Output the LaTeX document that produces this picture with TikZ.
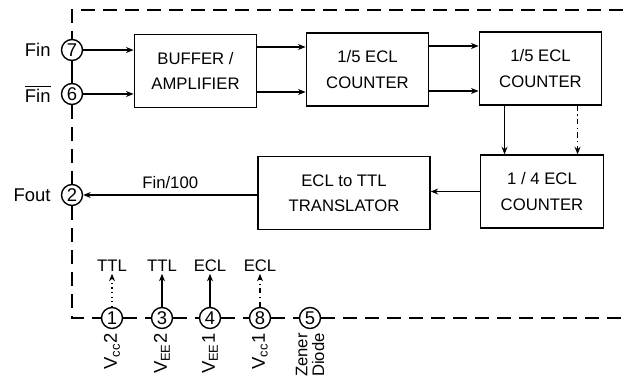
\documentclass[tikz,border=0pt]{standalone}
\usepackage{fontspec}
\setmainfont{Liberation Sans}
\usetikzlibrary{arrows.meta,positioning,calc}

\begin{document}
\begin{tikzpicture}[font=\fontsize{9.5}{14.5}\selectfont,
  blk/.style={draw, thick, minimum width=2.45cm, minimum height=1.46cm, align=center},
  pin/.style={draw, circle, thick, minimum size=0.42cm, inner sep=0pt, font=\fontsize{10.5}{11}\selectfont},
  sig/.style={-{Stealth[length=1.5mm,width=1.2mm]}, semithick},
  border/.style={thick, dash pattern=on 0.28cm off 0.16cm},
  supply/.style={rotate=90, anchor=east, inner sep=1pt, font=\fontsize{10.5}{11}\selectfont}]
  \useasboundingbox (0,0) rectangle (12.46,7.68);
  % function blocks
  \node[blk] (buf) at (3.91,6.26) {BUFFER /\\AMPLIFIER};
  \node[blk] (cnta) at (7.35,6.29) {1/5 ECL\\COUNTER};
  \node[blk] (cntb) at (10.81,6.31) {1/5 ECL\\COUNTER};
  \node[blk] (cntc) at (10.84,3.85) {1 / 4 ECL\\COUNTER};
  \node[blk, minimum width=3.44cm] (trans) at (6.88,3.82) {ECL to TTL\\TRANSLATOR};
  % pins on the left side
  \node[pin] (p7) at (1.44,6.68) {7};
  \node[pin] (p6) at (1.44,5.80) {6};
  \node[pin] (p2) at (1.44,3.78) {2};
  \node[left=0.08cm of p7, font=\fontsize{10.5}{11}\selectfont] (fin) {Fin};
  \node[left=0.08cm of p6, font=\fontsize{10.5}{11}\selectfont] (finb) {$\overline{\mbox{Fin}}$};
  \node[left=0.08cm of p2, font=\fontsize{10.5}{11}\selectfont] (fout) {Fout};
  % pins along the bottom
  \node[pin] (p1) at (2.24,1.32) {1};
  \node[pin] (p3) at (3.24,1.32) {3};
  \node[pin] (p4) at (4.20,1.32) {4};
  \node[pin] (p8) at (5.20,1.32) {8};
  \node[pin] (p5) at (6.20,1.32) {5};
  \node[supply] (v1) at ([yshift=-0.04cm]p1.south) {V\textsubscript{cc}2};
  \node[supply] (v3) at ([yshift=-0.04cm]p3.south) {V\textsubscript{EE}2};
  \node[supply] (v4) at ([yshift=-0.04cm]p4.south) {V\textsubscript{EE}1};
  \node[supply] (v8) at ([yshift=-0.04cm]p8.south) {V\textsubscript{cc}1};
  \node[supply, align=right, font=\fontsize{9.5}{9.5}\selectfont] (v5) at ([yshift=-0.04cm]p5.south) {Zener\\Diode};
  \node[above=0.66cm of p1, inner sep=1pt] (l1) {TTL};
  \node[above=0.66cm of p3, inner sep=1pt] (l3) {TTL};
  \node[above=0.66cm of p4, inner sep=1pt] (l4) {ECL};
  \node[above=0.66cm of p8, inner sep=1pt] (l8) {ECL};
  % package outline
  \coordinate (tl) at (1.44,7.48);
  \coordinate (tr) at (12.46,7.48);
  \coordinate (bl) at (1.44,1.32);
  \coordinate (br) at (12.46,1.32);
  \draw[border] (tr) -- (tl) -- (p7);
  \draw[thick] (p7) -- (p6);
  \draw[border] (p6) -- (p2);
  \draw[border] (p2) -- (bl) -- (p1);
  \draw[border] (p1) -- (p3);
  \draw[border] (p3) -- (p4);
  \draw[border] (p4) -- (p8);
  \draw[border] (p8) -- (p5);
  \draw[border] (p5) -- (br);
  % signal path
  \draw[sig] (p7) -- (p7 -| buf.west);
  \draw[sig] (p6) -- (p6 -| buf.west);
  \draw[sig] ([yshift=0.48cm]buf.east) -- ([yshift=0.48cm]buf.east -| cnta.west);
  \draw[sig] ([yshift=-0.42cm]buf.east) -- ([yshift=-0.42cm]buf.east -| cnta.west);
  \draw[sig] ([yshift=0.47cm]cnta.east) -- ([yshift=0.47cm]cnta.east -| cntb.west);
  \draw[sig] ([yshift=-0.43cm]cnta.east) -- ([yshift=-0.43cm]cnta.east -| cntb.west);
  \draw[sig] ([xshift=0.52cm]cntb.south west) -- ([xshift=0.52cm]cntb.south west |- cntc.north);
  \draw[sig, dash dot] ([xshift=1.98cm]cntb.south west) -- ([xshift=1.98cm]cntb.south west |- cntc.north);
  \draw[sig] (cntc.west) -- (cntc.west -| trans.east);
  \draw[sig] (trans.west |- p2) -- (p2) node[midway, above] {Fin/100};
  % supply levels
  \draw[sig, dotted] (p1) -- (l1);
  \draw[sig] (p3) -- (l3);
  \draw[sig] (p4) -- (l4);
  \draw[sig, dash dot] (p8) -- (l8);
\end{tikzpicture}
\end{document}
